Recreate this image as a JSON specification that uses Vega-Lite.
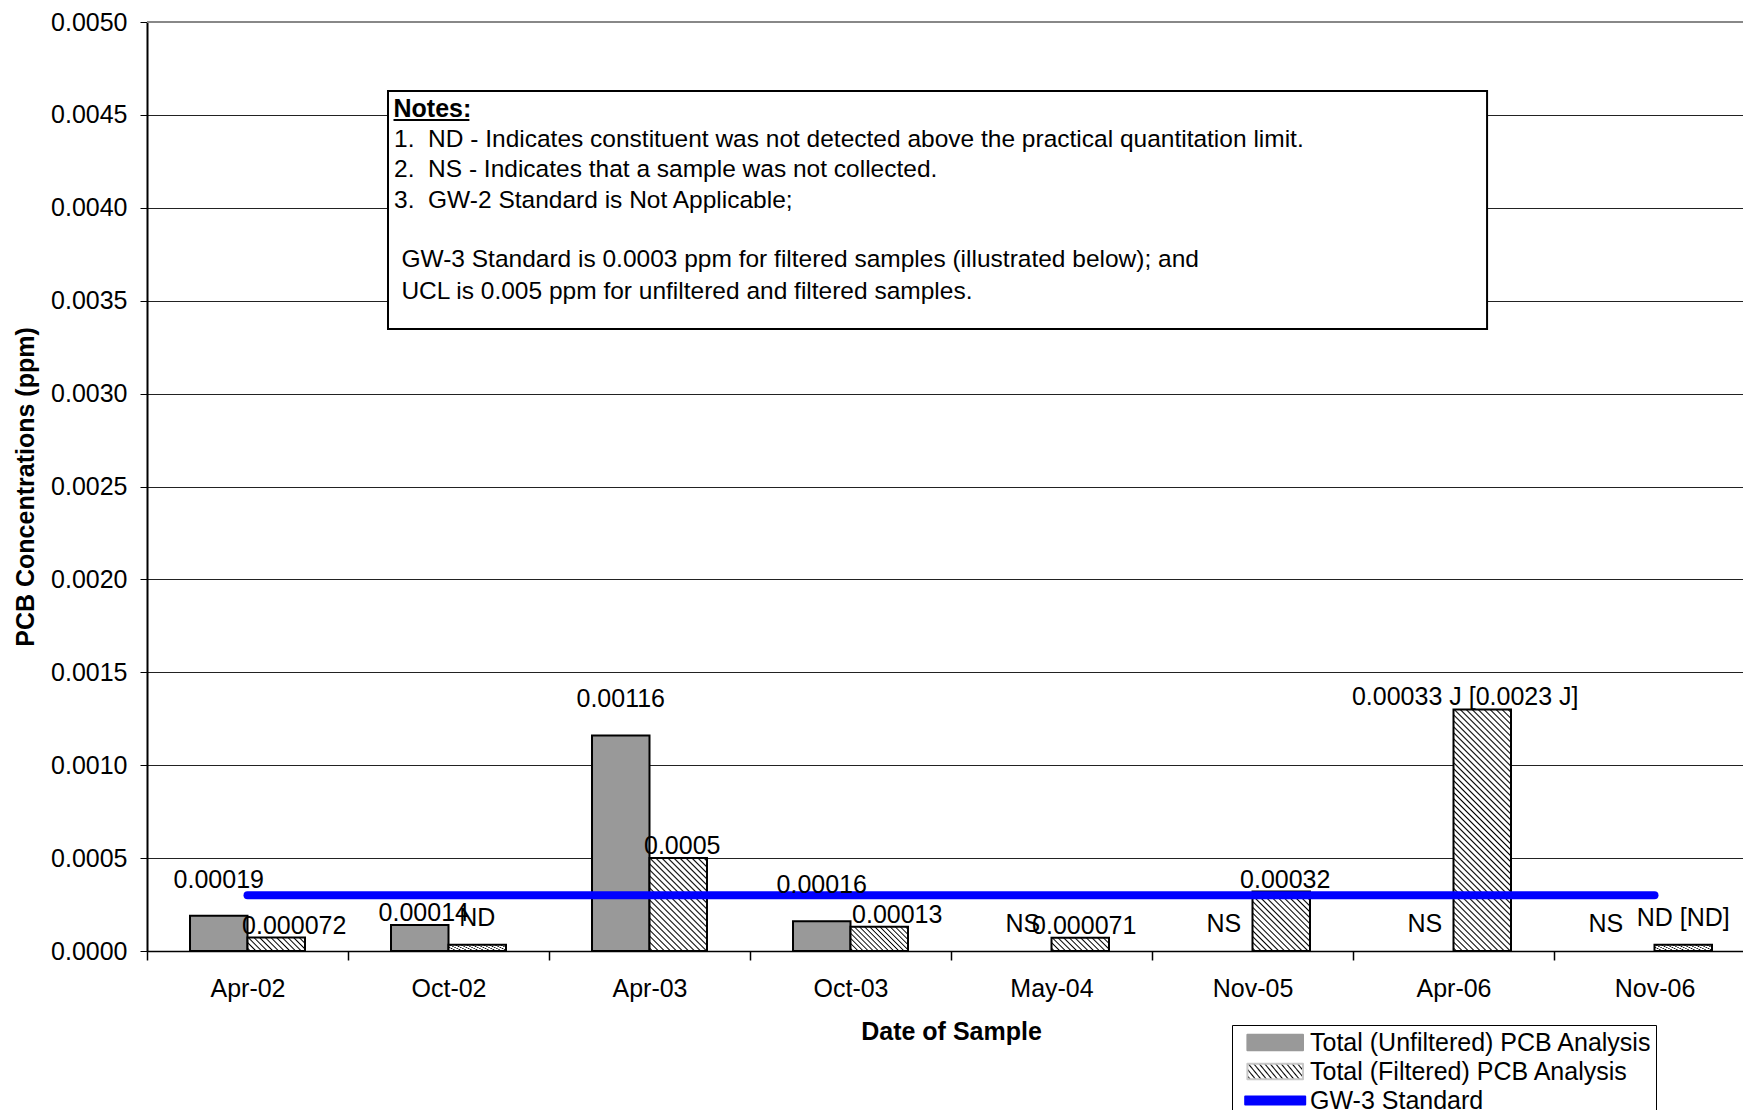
{
  "$schema": "https://vega.github.io/schema/vega-lite/v6.json",
  "width": 1596,
  "height": 929,
  "autosize": {"type": "none"},
  "padding": {"left": 147, "top": 22, "right": 0, "bottom": 159},
  "background": "#ffffff",
  "config": {
    "font": "Liberation Sans",
    "view": {"stroke": null},
    "axis": {"labelFont": "Liberation Sans", "labelFontSize": 25, "labelColor": "#000000", "titleFont": "Liberation Sans", "titleFontSize": 25, "titleFontWeight": "bold", "titleColor": "#000000", "domainColor": "#000000", "tickColor": "#000000"},
    "text": {"font": "Liberation Sans", "fontSize": 25, "color": "#000000", "baseline": "alphabetic", "align": "center"}
  },
  "datasets": {
    "pcb": [
      {"date": "Apr-02", "series": "Unfiltered", "value": 0.00019, "label": "0.00019"},
      {"date": "Apr-02", "series": "Filtered", "value": 0.000072, "label": "0.000072"},
      {"date": "Oct-02", "series": "Unfiltered", "value": 0.00014, "label": "0.00014"},
      {"date": "Oct-02", "series": "Filtered", "value": 0.000033, "label": "ND"},
      {"date": "Apr-03", "series": "Unfiltered", "value": 0.00116, "label": "0.00116"},
      {"date": "Apr-03", "series": "Filtered", "value": 0.0005, "label": "0.0005"},
      {"date": "Oct-03", "series": "Unfiltered", "value": 0.00016, "label": "0.00016"},
      {"date": "Oct-03", "series": "Filtered", "value": 0.00013, "label": "0.00013"},
      {"date": "May-04", "series": "Unfiltered", "value": null, "label": "NS"},
      {"date": "May-04", "series": "Filtered", "value": 0.000071, "label": "0.000071"},
      {"date": "Nov-05", "series": "Unfiltered", "value": null, "label": "NS"},
      {"date": "Nov-05", "series": "Filtered", "value": 0.00032, "label": "0.00032"},
      {"date": "Apr-06", "series": "Unfiltered", "value": null, "label": "NS"},
      {"date": "Apr-06", "series": "Filtered", "value": 0.0013, "label": "0.00033 J [0.0023 J]"},
      {"date": "Nov-06", "series": "Unfiltered", "value": null, "label": "NS"},
      {"date": "Nov-06", "series": "Filtered", "value": 0.000033, "label": "ND [ND]"}
    ],
    "standard": [
      {"date": "Apr-02", "standard": 0.0003},
      {"date": "Oct-02", "standard": 0.0003},
      {"date": "Apr-03", "standard": 0.0003},
      {"date": "Oct-03", "standard": 0.0003},
      {"date": "May-04", "standard": 0.0003},
      {"date": "Nov-05", "standard": 0.0003},
      {"date": "Apr-06", "standard": 0.0003},
      {"date": "Nov-06", "standard": 0.0003}
    ]
  },
  "layer": [
    {
      "layer": [
        {
          "data": {"name": "pcb"},
          "mark": {"type": "bar", "stroke": "#000000", "strokeWidth": 2},
          "encoding": {
            "x": {
              "field": "date", "type": "nominal", "sort": null,
              "scale": {"domain": ["Apr-02", "Oct-02", "Apr-03", "Oct-03", "May-04", "Nov-05", "Apr-06", "Nov-06"], "range": [0, 1608], "paddingInner": 0, "paddingOuter": 0},
              "axis": {"title": "Date of Sample", "labelAngle": 0, "tickSize": 9, "tickBand": "extent", "labelPadding": 16, "domainWidth": 1.5, "tickWidth": 1.5, "grid": false, "titleX": 804, "titleY": 68, "titleBaseline": "top", "titleAlign": "center"}
            },
            "xOffset": {"field": "series", "type": "nominal", "scale": {"domain": ["Unfiltered", "Filtered"], "paddingInner": 0, "paddingOuter": 0.748}},
            "y": {
              "field": "value", "type": "quantitative",
              "scale": {"domain": [0, 0.005], "nice": false},
              "axis": {"title": "PCB Concentrations (ppm)", "values": [0, 0.0005, 0.001, 0.0015, 0.002, 0.0025, 0.003, 0.0035, 0.004, 0.0045, 0.005], "format": ".4f", "tickSize": 7, "labelPadding": 13, "grid": true, "gridColor": "#222222", "gridWidth": 1, "domainWidth": 2, "titleAngle": -90, "titleX": -114, "titleY": 464.5, "titleBaseline": "alphabetic", "titleAlign": "center"}
            },
            "fill": {
              "condition": [
                {"test": "datum.series === 'Unfiltered'", "value": "#999999"},
                {"test": "datum.date === 'Apr-06'", "value": {"gradient": "linear", "x1": 0, "y1": 1, "x2": 0.279, "y2": -0.1717, "stops": [
                  {"offset": 0.005, "color": "#fff"}, {"offset": 0.01, "color": "#000"}, {"offset": 0.015, "color": "#fff"},
                  {"offset": 0.025, "color": "#fff"}, {"offset": 0.03, "color": "#000"}, {"offset": 0.035, "color": "#fff"},
                  {"offset": 0.045, "color": "#fff"}, {"offset": 0.05, "color": "#000"}, {"offset": 0.055, "color": "#fff"},
                  {"offset": 0.065, "color": "#fff"}, {"offset": 0.07, "color": "#000"}, {"offset": 0.075, "color": "#fff"},
                  {"offset": 0.085, "color": "#fff"}, {"offset": 0.09, "color": "#000"}, {"offset": 0.095, "color": "#fff"},
                  {"offset": 0.105, "color": "#fff"}, {"offset": 0.11, "color": "#000"}, {"offset": 0.115, "color": "#fff"},
                  {"offset": 0.125, "color": "#fff"}, {"offset": 0.13, "color": "#000"}, {"offset": 0.135, "color": "#fff"},
                  {"offset": 0.145, "color": "#fff"}, {"offset": 0.15, "color": "#000"}, {"offset": 0.155, "color": "#fff"},
                  {"offset": 0.165, "color": "#fff"}, {"offset": 0.17, "color": "#000"}, {"offset": 0.175, "color": "#fff"},
                  {"offset": 0.185, "color": "#fff"}, {"offset": 0.19, "color": "#000"}, {"offset": 0.195, "color": "#fff"},
                  {"offset": 0.205, "color": "#fff"}, {"offset": 0.21, "color": "#000"}, {"offset": 0.215, "color": "#fff"},
                  {"offset": 0.225, "color": "#fff"}, {"offset": 0.23, "color": "#000"}, {"offset": 0.235, "color": "#fff"},
                  {"offset": 0.245, "color": "#fff"}, {"offset": 0.25, "color": "#000"}, {"offset": 0.255, "color": "#fff"},
                  {"offset": 0.265, "color": "#fff"}, {"offset": 0.27, "color": "#000"}, {"offset": 0.275, "color": "#fff"},
                  {"offset": 0.285, "color": "#fff"}, {"offset": 0.29, "color": "#000"}, {"offset": 0.295, "color": "#fff"},
                  {"offset": 0.305, "color": "#fff"}, {"offset": 0.31, "color": "#000"}, {"offset": 0.315, "color": "#fff"},
                  {"offset": 0.325, "color": "#fff"}, {"offset": 0.33, "color": "#000"}, {"offset": 0.335, "color": "#fff"},
                  {"offset": 0.345, "color": "#fff"}, {"offset": 0.35, "color": "#000"}, {"offset": 0.355, "color": "#fff"},
                  {"offset": 0.365, "color": "#fff"}, {"offset": 0.37, "color": "#000"}, {"offset": 0.375, "color": "#fff"},
                  {"offset": 0.385, "color": "#fff"}, {"offset": 0.39, "color": "#000"}, {"offset": 0.395, "color": "#fff"},
                  {"offset": 0.405, "color": "#fff"}, {"offset": 0.41, "color": "#000"}, {"offset": 0.415, "color": "#fff"},
                  {"offset": 0.425, "color": "#fff"}, {"offset": 0.43, "color": "#000"}, {"offset": 0.435, "color": "#fff"},
                  {"offset": 0.445, "color": "#fff"}, {"offset": 0.45, "color": "#000"}, {"offset": 0.455, "color": "#fff"},
                  {"offset": 0.465, "color": "#fff"}, {"offset": 0.47, "color": "#000"}, {"offset": 0.475, "color": "#fff"},
                  {"offset": 0.485, "color": "#fff"}, {"offset": 0.49, "color": "#000"}, {"offset": 0.495, "color": "#fff"},
                  {"offset": 0.505, "color": "#fff"}, {"offset": 0.51, "color": "#000"}, {"offset": 0.515, "color": "#fff"},
                  {"offset": 0.525, "color": "#fff"}, {"offset": 0.53, "color": "#000"}, {"offset": 0.535, "color": "#fff"},
                  {"offset": 0.545, "color": "#fff"}, {"offset": 0.55, "color": "#000"}, {"offset": 0.555, "color": "#fff"},
                  {"offset": 0.565, "color": "#fff"}, {"offset": 0.57, "color": "#000"}, {"offset": 0.575, "color": "#fff"},
                  {"offset": 0.585, "color": "#fff"}, {"offset": 0.59, "color": "#000"}, {"offset": 0.595, "color": "#fff"},
                  {"offset": 0.605, "color": "#fff"}, {"offset": 0.61, "color": "#000"}, {"offset": 0.615, "color": "#fff"},
                  {"offset": 0.625, "color": "#fff"}, {"offset": 0.63, "color": "#000"}, {"offset": 0.635, "color": "#fff"},
                  {"offset": 0.645, "color": "#fff"}, {"offset": 0.65, "color": "#000"}, {"offset": 0.655, "color": "#fff"},
                  {"offset": 0.665, "color": "#fff"}, {"offset": 0.67, "color": "#000"}, {"offset": 0.675, "color": "#fff"},
                  {"offset": 0.685, "color": "#fff"}, {"offset": 0.69, "color": "#000"}, {"offset": 0.695, "color": "#fff"},
                  {"offset": 0.705, "color": "#fff"}, {"offset": 0.71, "color": "#000"}, {"offset": 0.715, "color": "#fff"},
                  {"offset": 0.725, "color": "#fff"}, {"offset": 0.73, "color": "#000"}, {"offset": 0.735, "color": "#fff"},
                  {"offset": 0.745, "color": "#fff"}, {"offset": 0.75, "color": "#000"}, {"offset": 0.755, "color": "#fff"},
                  {"offset": 0.765, "color": "#fff"}, {"offset": 0.77, "color": "#000"}, {"offset": 0.775, "color": "#fff"},
                  {"offset": 0.785, "color": "#fff"}, {"offset": 0.79, "color": "#000"}, {"offset": 0.795, "color": "#fff"},
                  {"offset": 0.805, "color": "#fff"}, {"offset": 0.81, "color": "#000"}, {"offset": 0.815, "color": "#fff"},
                  {"offset": 0.825, "color": "#fff"}, {"offset": 0.83, "color": "#000"}, {"offset": 0.835, "color": "#fff"},
                  {"offset": 0.845, "color": "#fff"}, {"offset": 0.85, "color": "#000"}, {"offset": 0.855, "color": "#fff"},
                  {"offset": 0.865, "color": "#fff"}, {"offset": 0.87, "color": "#000"}, {"offset": 0.875, "color": "#fff"},
                  {"offset": 0.885, "color": "#fff"}, {"offset": 0.89, "color": "#000"}, {"offset": 0.895, "color": "#fff"},
                  {"offset": 0.905, "color": "#fff"}, {"offset": 0.91, "color": "#000"}, {"offset": 0.915, "color": "#fff"},
                  {"offset": 0.925, "color": "#fff"}, {"offset": 0.93, "color": "#000"}, {"offset": 0.935, "color": "#fff"},
                  {"offset": 0.945, "color": "#fff"}, {"offset": 0.95, "color": "#000"}, {"offset": 0.955, "color": "#fff"},
                  {"offset": 0.965, "color": "#fff"}, {"offset": 0.97, "color": "#000"}, {"offset": 0.975, "color": "#fff"},
                  {"offset": 0.985, "color": "#fff"}, {"offset": 0.99, "color": "#000"}, {"offset": 0.995, "color": "#fff"}
                ]}},
                {"test": "datum.date === 'Apr-03'", "value": {"gradient": "linear", "x1": 0, "y1": 1, "x2": 0.7245, "y2": -0.1706, "stops": [
                  {"offset": 0.01, "color": "#fff"}, {"offset": 0.02, "color": "#000"}, {"offset": 0.03, "color": "#fff"},
                  {"offset": 0.05, "color": "#fff"}, {"offset": 0.06, "color": "#000"}, {"offset": 0.07, "color": "#fff"},
                  {"offset": 0.09, "color": "#fff"}, {"offset": 0.10, "color": "#000"}, {"offset": 0.11, "color": "#fff"},
                  {"offset": 0.13, "color": "#fff"}, {"offset": 0.14, "color": "#000"}, {"offset": 0.15, "color": "#fff"},
                  {"offset": 0.17, "color": "#fff"}, {"offset": 0.18, "color": "#000"}, {"offset": 0.19, "color": "#fff"},
                  {"offset": 0.21, "color": "#fff"}, {"offset": 0.22, "color": "#000"}, {"offset": 0.23, "color": "#fff"},
                  {"offset": 0.25, "color": "#fff"}, {"offset": 0.26, "color": "#000"}, {"offset": 0.27, "color": "#fff"},
                  {"offset": 0.29, "color": "#fff"}, {"offset": 0.30, "color": "#000"}, {"offset": 0.31, "color": "#fff"},
                  {"offset": 0.33, "color": "#fff"}, {"offset": 0.34, "color": "#000"}, {"offset": 0.35, "color": "#fff"},
                  {"offset": 0.37, "color": "#fff"}, {"offset": 0.38, "color": "#000"}, {"offset": 0.39, "color": "#fff"},
                  {"offset": 0.41, "color": "#fff"}, {"offset": 0.42, "color": "#000"}, {"offset": 0.43, "color": "#fff"},
                  {"offset": 0.45, "color": "#fff"}, {"offset": 0.46, "color": "#000"}, {"offset": 0.47, "color": "#fff"},
                  {"offset": 0.49, "color": "#fff"}, {"offset": 0.50, "color": "#000"}, {"offset": 0.51, "color": "#fff"},
                  {"offset": 0.53, "color": "#fff"}, {"offset": 0.54, "color": "#000"}, {"offset": 0.55, "color": "#fff"},
                  {"offset": 0.57, "color": "#fff"}, {"offset": 0.58, "color": "#000"}, {"offset": 0.59, "color": "#fff"},
                  {"offset": 0.61, "color": "#fff"}, {"offset": 0.62, "color": "#000"}, {"offset": 0.63, "color": "#fff"},
                  {"offset": 0.65, "color": "#fff"}, {"offset": 0.66, "color": "#000"}, {"offset": 0.67, "color": "#fff"},
                  {"offset": 0.69, "color": "#fff"}, {"offset": 0.70, "color": "#000"}, {"offset": 0.71, "color": "#fff"},
                  {"offset": 0.73, "color": "#fff"}, {"offset": 0.74, "color": "#000"}, {"offset": 0.75, "color": "#fff"},
                  {"offset": 0.77, "color": "#fff"}, {"offset": 0.78, "color": "#000"}, {"offset": 0.79, "color": "#fff"},
                  {"offset": 0.81, "color": "#fff"}, {"offset": 0.82, "color": "#000"}, {"offset": 0.83, "color": "#fff"},
                  {"offset": 0.85, "color": "#fff"}, {"offset": 0.86, "color": "#000"}, {"offset": 0.87, "color": "#fff"},
                  {"offset": 0.89, "color": "#fff"}, {"offset": 0.90, "color": "#000"}, {"offset": 0.91, "color": "#fff"},
                  {"offset": 0.93, "color": "#fff"}, {"offset": 0.94, "color": "#000"}, {"offset": 0.95, "color": "#fff"},
                  {"offset": 0.97, "color": "#fff"}, {"offset": 0.98, "color": "#000"}, {"offset": 0.99, "color": "#fff"}
                ]}},
                {"test": "datum.date === 'Nov-05'", "value": {"gradient": "linear", "x1": 0, "y1": 1, "x2": 0.9831, "y2": -0.0166, "stops": [
                  {"offset": 0.0125, "color": "#fff"}, {"offset": 0.025, "color": "#000"}, {"offset": 0.0375, "color": "#fff"},
                  {"offset": 0.0625, "color": "#fff"}, {"offset": 0.075, "color": "#000"}, {"offset": 0.0875, "color": "#fff"},
                  {"offset": 0.1125, "color": "#fff"}, {"offset": 0.125, "color": "#000"}, {"offset": 0.1375, "color": "#fff"},
                  {"offset": 0.1625, "color": "#fff"}, {"offset": 0.175, "color": "#000"}, {"offset": 0.1875, "color": "#fff"},
                  {"offset": 0.2125, "color": "#fff"}, {"offset": 0.225, "color": "#000"}, {"offset": 0.2375, "color": "#fff"},
                  {"offset": 0.2625, "color": "#fff"}, {"offset": 0.275, "color": "#000"}, {"offset": 0.2875, "color": "#fff"},
                  {"offset": 0.3125, "color": "#fff"}, {"offset": 0.325, "color": "#000"}, {"offset": 0.3375, "color": "#fff"},
                  {"offset": 0.3625, "color": "#fff"}, {"offset": 0.375, "color": "#000"}, {"offset": 0.3875, "color": "#fff"},
                  {"offset": 0.4125, "color": "#fff"}, {"offset": 0.425, "color": "#000"}, {"offset": 0.4375, "color": "#fff"},
                  {"offset": 0.4625, "color": "#fff"}, {"offset": 0.475, "color": "#000"}, {"offset": 0.4875, "color": "#fff"},
                  {"offset": 0.5125, "color": "#fff"}, {"offset": 0.525, "color": "#000"}, {"offset": 0.5375, "color": "#fff"},
                  {"offset": 0.5625, "color": "#fff"}, {"offset": 0.575, "color": "#000"}, {"offset": 0.5875, "color": "#fff"},
                  {"offset": 0.6125, "color": "#fff"}, {"offset": 0.625, "color": "#000"}, {"offset": 0.6375, "color": "#fff"},
                  {"offset": 0.6625, "color": "#fff"}, {"offset": 0.675, "color": "#000"}, {"offset": 0.6875, "color": "#fff"},
                  {"offset": 0.7125, "color": "#fff"}, {"offset": 0.725, "color": "#000"}, {"offset": 0.7375, "color": "#fff"},
                  {"offset": 0.7625, "color": "#fff"}, {"offset": 0.775, "color": "#000"}, {"offset": 0.7875, "color": "#fff"},
                  {"offset": 0.8125, "color": "#fff"}, {"offset": 0.825, "color": "#000"}, {"offset": 0.8375, "color": "#fff"},
                  {"offset": 0.8625, "color": "#fff"}, {"offset": 0.875, "color": "#000"}, {"offset": 0.8875, "color": "#fff"},
                  {"offset": 0.9125, "color": "#fff"}, {"offset": 0.925, "color": "#000"}, {"offset": 0.9375, "color": "#fff"},
                  {"offset": 0.9625, "color": "#fff"}, {"offset": 0.975, "color": "#000"}, {"offset": 0.9875, "color": "#fff"}
                ]}},
                {"test": "datum.date === 'Oct-03'", "value": {"gradient": "linear", "x1": 0, "y1": 1, "x2": 1.2072, "y2": 0.493, "stops": [
                  {"offset": 0.0156, "color": "#fff"}, {"offset": 0.0313, "color": "#000"}, {"offset": 0.0469, "color": "#fff"},
                  {"offset": 0.0781, "color": "#fff"}, {"offset": 0.0938, "color": "#000"}, {"offset": 0.1094, "color": "#fff"},
                  {"offset": 0.1406, "color": "#fff"}, {"offset": 0.1563, "color": "#000"}, {"offset": 0.1719, "color": "#fff"},
                  {"offset": 0.2031, "color": "#fff"}, {"offset": 0.2188, "color": "#000"}, {"offset": 0.2344, "color": "#fff"},
                  {"offset": 0.2656, "color": "#fff"}, {"offset": 0.2813, "color": "#000"}, {"offset": 0.2969, "color": "#fff"},
                  {"offset": 0.3281, "color": "#fff"}, {"offset": 0.3438, "color": "#000"}, {"offset": 0.3594, "color": "#fff"},
                  {"offset": 0.3906, "color": "#fff"}, {"offset": 0.4063, "color": "#000"}, {"offset": 0.4219, "color": "#fff"},
                  {"offset": 0.4531, "color": "#fff"}, {"offset": 0.4688, "color": "#000"}, {"offset": 0.4844, "color": "#fff"},
                  {"offset": 0.5156, "color": "#fff"}, {"offset": 0.5313, "color": "#000"}, {"offset": 0.5469, "color": "#fff"},
                  {"offset": 0.5781, "color": "#fff"}, {"offset": 0.5938, "color": "#000"}, {"offset": 0.6094, "color": "#fff"},
                  {"offset": 0.6406, "color": "#fff"}, {"offset": 0.6563, "color": "#000"}, {"offset": 0.6719, "color": "#fff"},
                  {"offset": 0.7031, "color": "#fff"}, {"offset": 0.7188, "color": "#000"}, {"offset": 0.7344, "color": "#fff"},
                  {"offset": 0.7656, "color": "#fff"}, {"offset": 0.7813, "color": "#000"}, {"offset": 0.7969, "color": "#fff"},
                  {"offset": 0.8281, "color": "#fff"}, {"offset": 0.8438, "color": "#000"}, {"offset": 0.8594, "color": "#fff"},
                  {"offset": 0.8906, "color": "#fff"}, {"offset": 0.9063, "color": "#000"}, {"offset": 0.9219, "color": "#fff"},
                  {"offset": 0.9531, "color": "#fff"}, {"offset": 0.9688, "color": "#000"}, {"offset": 0.9844, "color": "#fff"}
                ]}}
              ],
              "value": {"gradient": "linear", "x1": 0, "y1": 1, "x2": 1.1688, "y2": 0.7297, "stops": [
                {"offset": 0.02, "color": "#fff"}, {"offset": 0.04, "color": "#000"}, {"offset": 0.06, "color": "#fff"},
                {"offset": 0.10, "color": "#fff"}, {"offset": 0.12, "color": "#000"}, {"offset": 0.14, "color": "#fff"},
                {"offset": 0.18, "color": "#fff"}, {"offset": 0.20, "color": "#000"}, {"offset": 0.22, "color": "#fff"},
                {"offset": 0.26, "color": "#fff"}, {"offset": 0.28, "color": "#000"}, {"offset": 0.30, "color": "#fff"},
                {"offset": 0.34, "color": "#fff"}, {"offset": 0.36, "color": "#000"}, {"offset": 0.38, "color": "#fff"},
                {"offset": 0.42, "color": "#fff"}, {"offset": 0.44, "color": "#000"}, {"offset": 0.46, "color": "#fff"},
                {"offset": 0.50, "color": "#fff"}, {"offset": 0.52, "color": "#000"}, {"offset": 0.54, "color": "#fff"},
                {"offset": 0.58, "color": "#fff"}, {"offset": 0.60, "color": "#000"}, {"offset": 0.62, "color": "#fff"},
                {"offset": 0.66, "color": "#fff"}, {"offset": 0.68, "color": "#000"}, {"offset": 0.70, "color": "#fff"},
                {"offset": 0.74, "color": "#fff"}, {"offset": 0.76, "color": "#000"}, {"offset": 0.78, "color": "#fff"},
                {"offset": 0.82, "color": "#fff"}, {"offset": 0.84, "color": "#000"}, {"offset": 0.86, "color": "#fff"},
                {"offset": 0.90, "color": "#fff"}, {"offset": 0.92, "color": "#000"}, {"offset": 0.94, "color": "#fff"},
                {"offset": 0.98, "color": "#fff"}, {"offset": 1.0, "color": "#000"}
              ]}
            }
          }
        },
        {
          "data": {"name": "standard"},
          "mark": {"type": "line", "strokeWidth": 8, "strokeCap": "round"},
          "encoding": {
            "x": {"field": "date", "type": "nominal"},
            "y": {"field": "standard", "type": "quantitative"},
            "color": {
              "datum": "GW-3 Standard", "type": "nominal",
              "scale": {"domain": ["Total (Unfiltered) PCB Analysis", "Total (Filtered) PCB Analysis", "GW-3 Standard"], "range": ["#999999", "#c8c8c8", "#0000ff"]},
              "legend": {
                "title": null, "orient": "none", "legendX": 1085, "legendY": 1003, "direction": "vertical",
                "labelFont": "Liberation Sans", "labelFontSize": 25, "labelColor": "#000000", "labelLimit": 1000, "labelOffset": 21.3,
                "symbolSize": 625, "symbolOffset": 25.7, "symbolStrokeWidth": 2, "rowPadding": 2, "padding": 4,
                "strokeColor": "#000000", "fillColor": "#ffffff",
                "symbolType": "M-2.224,-0.624H2.224V0.624H-2.224Z",
                "encode": {"symbols": {"update": {
                  "shape": [{"test": "datum.value === 'GW-3 Standard'", "value": "M-2.4,-0.32H2.4V0.32H-2.4Z"}, {"value": "M-2.224,-0.624H2.224V0.624H-2.224Z"}],
                  "fill": [
                    {"test": "datum.value === 'GW-3 Standard'", "value": "#0000ff"},
                    {"test": "datum.value === 'Total (Filtered) PCB Analysis'", "value": {"gradient": "linear", "x1": 0, "y1": 1, "x2": 1.1688, "y2": 0.7297, "stops": [
                      {"offset": 0.02, "color": "#fff"}, {"offset": 0.04, "color": "#000"}, {"offset": 0.06, "color": "#fff"},
                      {"offset": 0.10, "color": "#fff"}, {"offset": 0.12, "color": "#000"}, {"offset": 0.14, "color": "#fff"},
                      {"offset": 0.18, "color": "#fff"}, {"offset": 0.20, "color": "#000"}, {"offset": 0.22, "color": "#fff"},
                      {"offset": 0.26, "color": "#fff"}, {"offset": 0.28, "color": "#000"}, {"offset": 0.30, "color": "#fff"},
                      {"offset": 0.34, "color": "#fff"}, {"offset": 0.36, "color": "#000"}, {"offset": 0.38, "color": "#fff"},
                      {"offset": 0.42, "color": "#fff"}, {"offset": 0.44, "color": "#000"}, {"offset": 0.46, "color": "#fff"},
                      {"offset": 0.50, "color": "#fff"}, {"offset": 0.52, "color": "#000"}, {"offset": 0.54, "color": "#fff"},
                      {"offset": 0.58, "color": "#fff"}, {"offset": 0.60, "color": "#000"}, {"offset": 0.62, "color": "#fff"},
                      {"offset": 0.66, "color": "#fff"}, {"offset": 0.68, "color": "#000"}, {"offset": 0.70, "color": "#fff"},
                      {"offset": 0.74, "color": "#fff"}, {"offset": 0.76, "color": "#000"}, {"offset": 0.78, "color": "#fff"},
                      {"offset": 0.82, "color": "#fff"}, {"offset": 0.84, "color": "#000"}, {"offset": 0.86, "color": "#fff"},
                      {"offset": 0.90, "color": "#fff"}, {"offset": 0.92, "color": "#000"}, {"offset": 0.94, "color": "#fff"},
                      {"offset": 0.98, "color": "#fff"}, {"offset": 1.0, "color": "#000"}
                    ]}},
                    {"value": "#999999"}
                  ],
                  "stroke": [{"test": "datum.value === 'GW-3 Standard'", "value": "#0000ff"}, {"value": "#000000"}],
                  "strokeWidth": {"value": 2},
                  "strokeJoin": {"value": "round"},
                  "opacity": {"value": 1}
                }}}
              }
            }
          }
        },
        {
          "data": {"name": "pcb"},
          "transform": [{"filter": "datum.series === 'Unfiltered' && datum.value !== null && datum.date !== 'Oct-02'"}],
          "mark": {"type": "text", "dy": -28},
          "encoding": {
            "x": {"field": "date", "type": "nominal"},
            "xOffset": {"field": "series", "type": "nominal"},
            "y": {"field": "value", "type": "quantitative"},
            "text": {"field": "label", "type": "nominal"}
          }
        },
        {
          "data": {"name": "pcb"},
          "transform": [
            {"filter": "(datum.label === 'NS' && datum.date !== 'Nov-06') || indexof(datum.label, 'ND') === 0"},
            {"calculate": "datum.value === null ? 0 : datum.value", "as": "ly"}
          ],
          "mark": {"type": "text", "dy": -19},
          "encoding": {
            "x": {"field": "date", "type": "nominal"},
            "xOffset": {"field": "series", "type": "nominal"},
            "y": {"field": "ly", "type": "quantitative"},
            "text": {"field": "label", "type": "nominal"}
          }
        },
        {
          "data": {"name": "pcb"},
          "transform": [
            {"filter": "datum.label === 'NS' && datum.date === 'Nov-06'"},
            {"calculate": "datum.value === null ? 0 : datum.value", "as": "ly"}
          ],
          "mark": {"type": "text", "dy": -19, "dx": -20},
          "encoding": {
            "x": {"field": "date", "type": "nominal"},
            "xOffset": {"field": "series", "type": "nominal"},
            "y": {"field": "ly", "type": "quantitative"},
            "text": {"field": "label", "type": "nominal"}
          }
        },
        {
          "data": {"name": "pcb"},
          "transform": [{"filter": "(datum.series === 'Filtered' && indexof(datum.label, 'ND') !== 0 && datum.date !== 'Apr-02' && datum.date !== 'Oct-03' && datum.date !== 'Apr-06') || (datum.series === 'Unfiltered' && datum.date === 'Oct-02')"}],
          "mark": {"type": "text", "dy": -4, "dx": 4},
          "encoding": {
            "x": {"field": "date", "type": "nominal"},
            "xOffset": {"field": "series", "type": "nominal"},
            "y": {"field": "value", "type": "quantitative"},
            "text": {"field": "label", "type": "nominal"}
          }
        },
        {
          "data": {"name": "pcb"},
          "transform": [{"filter": "datum.series === 'Filtered' && (datum.date === 'Apr-02' || datum.date === 'Oct-03')"}],
          "mark": {"type": "text", "dy": -4, "dx": 18},
          "encoding": {
            "x": {"field": "date", "type": "nominal"},
            "xOffset": {"field": "series", "type": "nominal"},
            "y": {"field": "value", "type": "quantitative"},
            "text": {"field": "label", "type": "nominal"}
          }
        },
        {
          "data": {"name": "pcb"},
          "transform": [{"filter": "datum.series === 'Filtered' && datum.date === 'Apr-06'"}],
          "mark": {"type": "text", "dy": -4, "dx": -17},
          "encoding": {
            "x": {"field": "date", "type": "nominal"},
            "xOffset": {"field": "series", "type": "nominal"},
            "y": {"field": "value", "type": "quantitative"},
            "text": {"field": "label", "type": "nominal"}
          }
        },
        {
          "data": {"values": [{}]},
          "mark": {"type": "rule", "stroke": "#888888", "strokeWidth": 2},
          "encoding": {"y": {"datum": 0.005, "type": "quantitative"}}
        }
      ]
    },
    {
      "data": {"values": [{}]},
      "layer": [
        {
          "mark": {"type": "rect", "fill": "#ffffff", "stroke": "#000000", "strokeWidth": 2},
          "encoding": {
            "x": {"datum": 1.199, "type": "quantitative", "scale": {"domain": [0, 8], "range": [0, 1608]}, "axis": null},
            "x2": {"datum": 6.667},
            "y": {"datum": 0.004629, "type": "quantitative"},
            "y2": {"datum": 0.003348}
          }
        },
        {
          "mark": {"type": "text", "text": "Notes:", "fontWeight": "bold", "align": "left", "baseline": "alphabetic", "fontSize": 25},
          "encoding": {
            "x": {"datum": 1.2264, "type": "quantitative", "axis": null},
            "y": {"datum": 0.0044903, "type": "quantitative"}
          }
        },
        {
          "mark": {"type": "rule", "stroke": "#000000", "strokeWidth": 2},
          "encoding": {
            "x": {"datum": 1.2264, "type": "quantitative", "axis": null},
            "x2": {"datum": 1.604},
            "y": {"datum": 0.0044726, "type": "quantitative"}
          }
        },
        {
          "mark": {"type": "text", "text": ["1. \u00a0ND - Indicates constituent was not detected above the practical quantitation limit.", "2. \u00a0NS - Indicates that a sample was not collected.", "3. \u00a0GW-2 Standard is Not Applicable;"], "align": "left", "baseline": "alphabetic", "fontSize": 24.5, "lineHeight": 30.3},
          "encoding": {
            "x": {"datum": 1.2289, "type": "quantitative", "axis": null},
            "y": {"datum": 0.0043262, "type": "quantitative"}
          }
        },
        {
          "mark": {"type": "text", "text": ["GW-3 Standard is 0.0003 ppm for filtered samples (illustrated below); and", "UCL is 0.005 ppm for unfiltered and filtered samples."], "align": "left", "baseline": "alphabetic", "fontSize": 24.5, "lineHeight": 31.5},
          "encoding": {
            "x": {"datum": 1.2657, "type": "quantitative", "axis": null},
            "y": {"datum": 0.0036787, "type": "quantitative"}
          }
        }
      ]
    }
  ],
  "resolve": {"scale": {"x": "independent"}}
}
